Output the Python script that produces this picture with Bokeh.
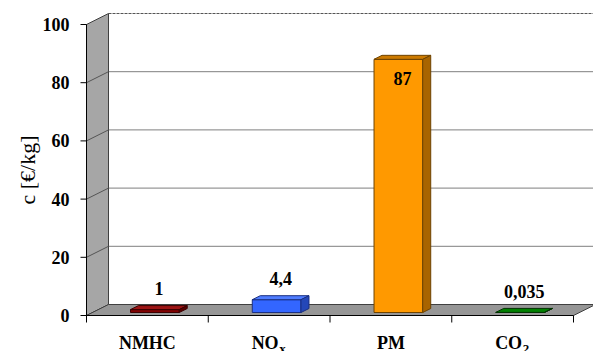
import math
from bokeh.plotting import figure
from bokeh.models import Range1d, ColumnDataSource
from bokeh.core.properties import value
from bokeh.embed import file_html
from bokeh.resources import INLINE

# ---- data ----
categories = ["NMHC", "NO", "PM", "CO"]
subscripts = ["", "x", "", "2"]
costs = [1, 4.4, 87, 0.035]
cost_labels = ["1", "4,4", "87", "0,035"]
y_ticks = [0, 20, 40, 60, 80, 100]
y_title = "c [€/kg]"

front_colors = ["#800000", "#3366FF", "#FF9900", "#006600"]
top_colors = ["#9E1515", "#4F7DFF", "#CC7A00", "#008000"]
side_colors = ["#5A0000", "#2447B8", "#A86400", "#004A00"]
edge_colors = ["#3A0000", "#1A2F80", "#6E4300", "#003000"]

SERIF = value("'Liberation Serif'")

# ---- pseudo-3D geometry (data units) ----
PX_X = 121.75          # pixels per category
PX_Y = 2.91            # pixels per value unit
WALL_DX, WALL_DY = 22 / PX_X, 11 / PX_Y      # depth of the chart box
BAR_FX, BAR_FY = 7.5 / PX_X, 3 / PX_Y        # bar front plane offset
BAR_DX, BAR_DY = 8 / PX_X, 4 / PX_Y          # bar depth
BAR_W = 0.40
N = len(categories)

x_start = -86 / PX_X
x_end = (593 - 86) / PX_X
y_start = -(351 - 315) / PX_Y
y_end = 315 / PX_Y

p = figure(width=593, height=351, output_backend="svg", toolbar_location=None,
           x_range=Range1d(x_start, x_end), y_range=Range1d(y_start, y_end),
           x_axis_location=None, y_axis_location=None,
           min_border_left=0, min_border_right=0, min_border_top=0, min_border_bottom=0)
p.outline_line_color = None
p.xgrid.visible = False
p.ygrid.visible = False
p.background_fill_color = "white"
p.border_fill_color = "white"

top_val = max(y_ticks)
grid_vals = [v for v in y_ticks if 0 < v < top_val]

# back wall gridlines and dashed top edge
p.segment(x0=[WALL_DX] * len(grid_vals), y0=[v + WALL_DY for v in grid_vals],
          x1=[N + WALL_DX] * len(grid_vals), y1=[v + WALL_DY for v in grid_vals],
          line_color="#7F7F7F", line_width=1)
p.segment(x0=[WALL_DX], y0=[top_val + WALL_DY], x1=[N + WALL_DX], y1=[top_val + WALL_DY],
          line_color="#555555", line_width=1, line_dash="3 1")

# left side wall
p.patch(x=[0, 0, WALL_DX, WALL_DX], y=[0, top_val, top_val + WALL_DY, WALL_DY],
        fill_color="#A6A6A6", line_color="#404040", line_width=1)
p.segment(x0=[0] * len(grid_vals), y0=grid_vals,
          x1=[WALL_DX] * len(grid_vals), y1=[v + WALL_DY for v in grid_vals],
          line_color="#555555", line_width=1)

# floor
p.patch(x=[0, N, N + WALL_DX, WALL_DX], y=[0, 0, WALL_DY, WALL_DY],
        fill_color="#969696", line_color="#404040", line_width=1)

# value axis: line, outward ticks, labels and title
ytick_len = 6 / PX_X
p.segment(x0=[0], y0=[0], x1=[0], y1=[top_val], line_color="black", line_width=1)
p.segment(x0=[-ytick_len] * len(y_ticks), y0=y_ticks, x1=[0] * len(y_ticks), y1=y_ticks,
          line_color="black", line_width=1)
p.text(x=[0] * len(y_ticks), y=y_ticks, text=[str(v) for v in y_ticks],
       x_offset=[-17] * len(y_ticks), text_align="right", text_baseline="middle",
       text_font=SERIF, text_font_style="bold", text_font_size="18px", text_color="black")
p.text(x=[-59 / PX_X], y=[sum(y_ticks) / len(y_ticks)], text=[y_title],
       angle=math.pi / 2, text_align="center", text_baseline="middle",
       text_font=SERIF, text_font_style="normal", text_font_size="22px", text_color="black")

# category axis: baseline and ticks between categories
tick_len = 7 / PX_Y
p.segment(x0=[0], y0=[0], x1=[N], y1=[0], line_color="black", line_width=1)
p.segment(x0=list(range(N + 1)), y0=[0] * (N + 1), x1=list(range(N + 1)),
          y1=[-tick_len] * (N + 1), line_color="black", line_width=1)

# bars: front, top and side faces
xs, ys, fills, lines = [], [], [], []
for i, v in enumerate(costs):
    x0 = i + 0.5 + BAR_FX - BAR_W / 2
    x1 = x0 + BAR_W
    y0 = BAR_FY
    y1 = BAR_FY + v
    faces = [
        ([x0, x1, x1, x0], [y0, y0, y1, y1], front_colors[i]),
        ([x0, x1, x1 + BAR_DX, x0 + BAR_DX], [y1, y1, y1 + BAR_DY, y1 + BAR_DY], top_colors[i]),
        ([x1, x1 + BAR_DX, x1 + BAR_DX, x1], [y0, y0 + BAR_DY, y1 + BAR_DY, y1], side_colors[i]),
    ]
    for fx, fy, fc in faces:
        xs.append(fx)
        ys.append(fy)
        fills.append(fc)
        lines.append(edge_colors[i])

p.patches(xs="xs", ys="ys", fill_color="fill", line_color="line", line_width=1,
          source=ColumnDataSource(dict(xs=xs, ys=ys, fill=fills, line=lines)))

# value labels: above short bars, inside the tall one
lab_x, lab_y = [], []
for i, v in enumerate(costs):
    lab_x.append(i + 0.5 + BAR_FX + BAR_DX / 2)
    top = BAR_FY + v
    if v > 0.8 * top_val:
        lab_y.append(top - 19 / PX_Y)
    else:
        lab_y.append(top + BAR_DY + 17 / PX_Y)
p.text(x=lab_x, y=lab_y, text=cost_labels, text_align="center", text_baseline="middle",
       text_font=SERIF, text_font_style="bold", text_font_size="18px", text_color="black")

# category names with subscripts
name_y = -27 / PX_Y
cx = [i + 0.5 for i in range(N)]
p.text(x=cx, y=[name_y] * N, text=categories,
       x_offset=[-4 if s else 0 for s in subscripts],
       text_align="center", text_baseline="middle",
       text_font=SERIF, text_font_style="bold", text_font_size="18px", text_color="black")
p.text(x=cx, y=[name_y] * N, text=subscripts, x_offset=[10] * N, y_offset=[6] * N,
       text_align="left", text_baseline="middle",
       text_font=SERIF, text_font_style="bold", text_font_size="13px", text_color="black")

open("out.html", "w").write(file_html(p, INLINE))
